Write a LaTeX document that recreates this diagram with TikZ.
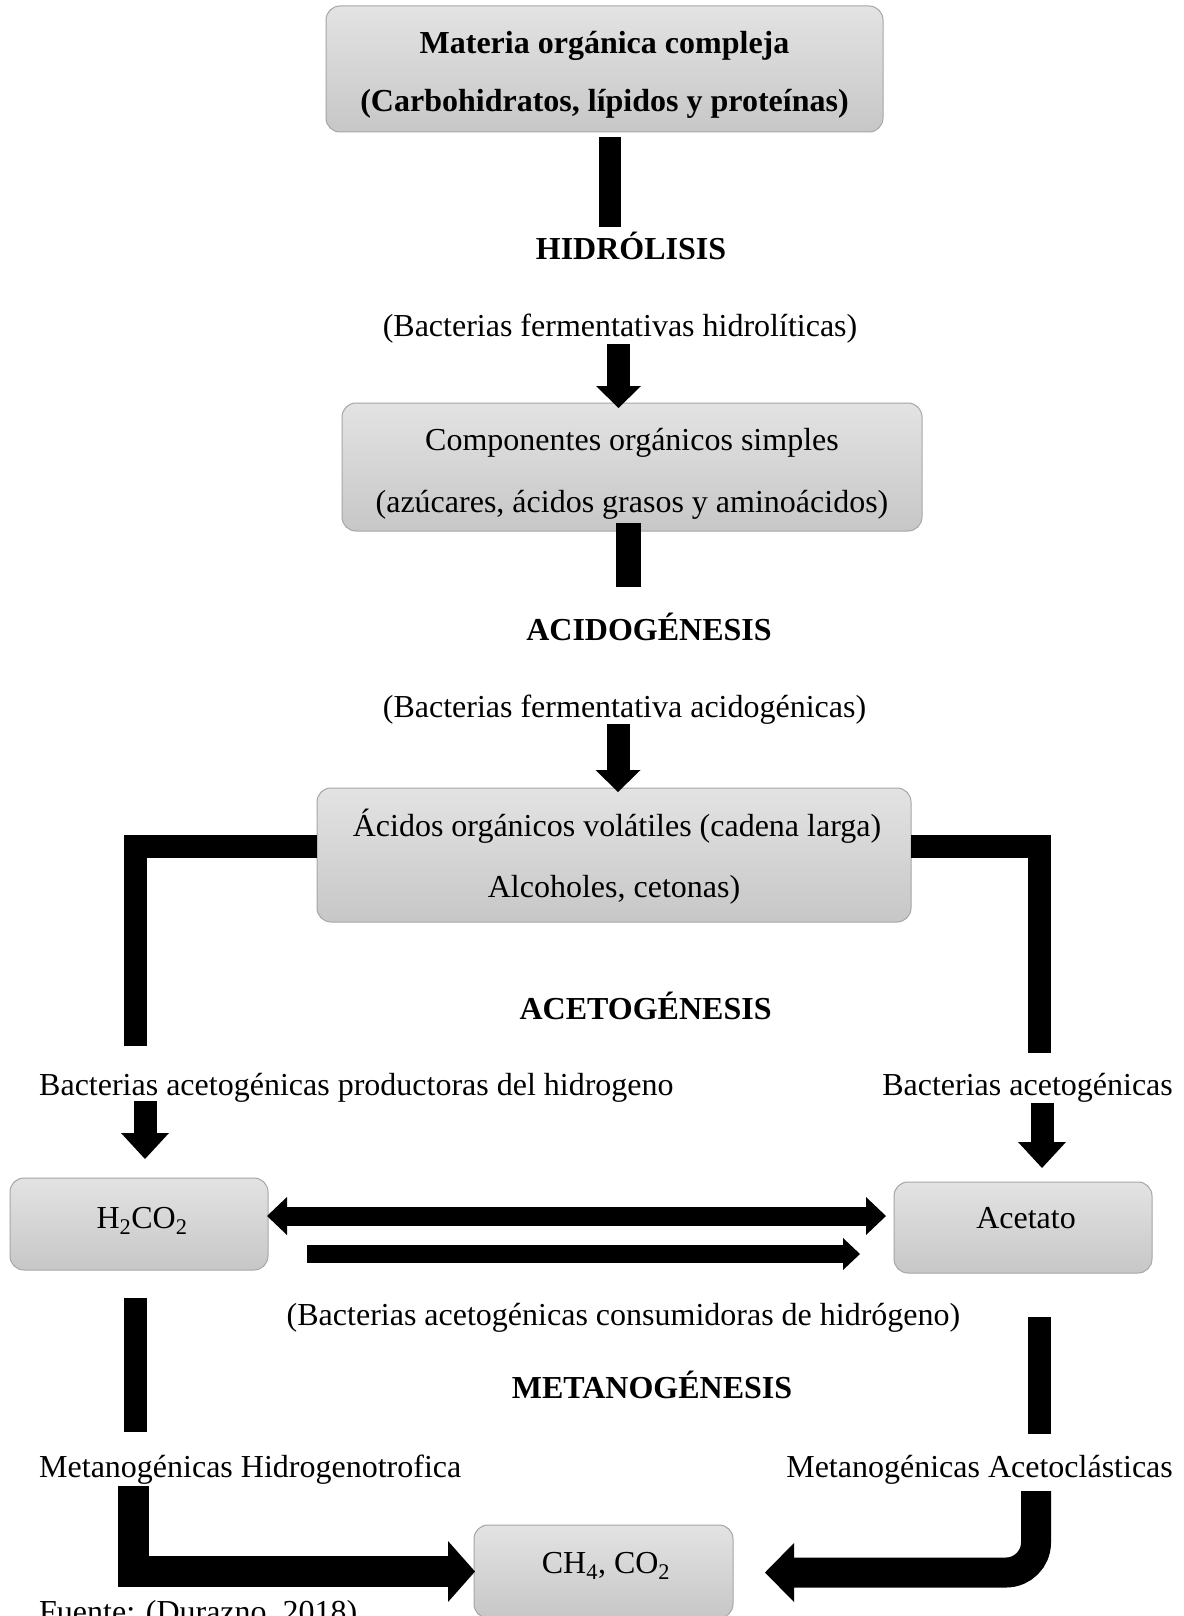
\documentclass[tikz,border=0pt]{standalone}
\usepackage{fontspec}
\setmainfont{Liberation Serif}
\usetikzlibrary{arrows.meta}
\begin{document}
\begin{tikzpicture}[x=1pt,y=-1pt,
  box/.style={draw=black!35, line width=1pt, rounded corners=14pt, top color=black!11, bottom color=black!22, inner sep=0pt},
  txt/.style={font=\fontsize{32pt}{38pt}\selectfont, inner sep=0pt, anchor=base},
  btxt/.style={txt, font=\fontsize{32pt}{38pt}\selectfont\bfseries},
  bar/.style={line width=#1, line cap=butt, line join=miter},
  fat/.style n args={3}{line width=#1, line cap=butt, line join=miter, -{Triangle[width=#2,length=#3,line width=0pt]}},
  dfat/.style n args={3}{line width=#1, line cap=butt, {Triangle[width=#2,length=#3,line width=0pt]}-{Triangle[width=#2,length=#3,line width=0pt]}}
]
\fill[white] (0,0) rectangle (1183,1616);
\useasboundingbox (0,0) rectangle (1183,1616);

% boxes and texts
\node[box, minimum width=557pt, minimum height=126pt] (b1) at (604.5,69) {};
\node[btxt] (b1a) at (604.5,54) {Materia orgánica compleja};
\node[btxt] (b1b) at (604.5,112) {(Carbohidratos, lípidos y proteínas)};

\node[btxt] (hid) at (631,259) {HIDRÓLISIS};
\node[txt] (bfh) at (620,336) {(Bacterias fermentativas hidrolíticas)};

\node[box, minimum width=580pt, minimum height=128pt] (b2) at (632,467) {};
\node[txt] (b2a) at (632,450) {Componentes orgánicos simples};
\node[txt] (b2b) at (632,512) {(azúcares, ácidos grasos y aminoácidos)};

\node[btxt] (acid) at (649,640) {ACIDOGÉNESIS};
\node[txt] (bfa) at (624.5,717) {(Bacterias fermentativa acidogénicas)};

\node[box, minimum width=594pt, minimum height=134pt] (b3) at (614,855) {};
\node[txt] (b3a) at (617,836.5) {Ácidos orgánicos volátiles (cadena larga)};
\node[txt] (b3b) at (614,897) {Alcoholes, cetonas)};

\node[btxt] (acet) at (645.6,1019) {ACETOGÉNESIS};
\node[txt, anchor=base west] (bap) at (39,1095) {Bacterias acetogénicas productoras del hidrogeno};
\node[txt, anchor=base east] (ba) at (1173,1095) {Bacterias acetogénicas};

\node[box, minimum width=258pt, minimum height=92pt] (h2) at (139,1224) {};
\node[txt] (h2t) at (142,1228) {H\textsubscript{2}CO\textsubscript{2}};
\node[box, minimum width=258pt, minimum height=91pt] (ac) at (1023,1227.5) {};
\node[txt] (act) at (1026,1228) {Acetato};

\node[txt] (bac) at (623.5,1325) {(Bacterias acetogénicas consumidoras de hidrógeno)};
\node[btxt] (met) at (652,1398) {METANOGÉNESIS};
\node[txt, anchor=base west] (mh) at (39,1477) {Metanogénicas Hidrogenotrofica};
\node[txt, anchor=base east] (ma) at (1173,1477) {Metanogénicas Acetoclásticas};

\node[box, minimum width=259pt, minimum height=93pt] (ch) at (603.5,1571.5) {};
\node[txt] (cht) at (606,1573) {CH\textsubscript{4}, CO\textsubscript{2}};
\node[txt, anchor=base west] (fu) at (39,1622) {Fuente: (Durazno, 2018)};

% connector end points
\coordinate (c1a) at (610,137);   \coordinate (c1b) at (610,227);
\coordinate (a1a) at (618.5,344); \coordinate (a1b) at (618.5,408);
\coordinate (c2a) at (628,523);   \coordinate (c2b) at (628,587);
\coordinate (a2a) at (618,724);   \coordinate (a2b) at (618,792);
\coordinate (lb0) at (317,846);   \coordinate (lb1) at (135.5,846); \coordinate (lb2) at (135.5,1046);
\coordinate (rb0) at (911,846);   \coordinate (rb1) at (1039,846);  \coordinate (rb2) at (1039,1053);
\coordinate (al0) at (145,1101);  \coordinate (al1) at (145,1159);
\coordinate (ar0) at (1042,1103); \coordinate (ar1) at (1042,1168);
\coordinate (d0) at (267,1216);   \coordinate (d1) at (886,1216);
\coordinate (s0) at (307,1254);   \coordinate (s1) at (860,1254);
\coordinate (lv0) at (135.5,1298); \coordinate (lv1) at (135.5,1432);
\coordinate (rv0) at (1039,1317); \coordinate (rv1) at (1039,1434);
\coordinate (bl0) at (133.5,1486); \coordinate (bl1) at (475,1571.5);
\coordinate (br0) at (1036,1491); \coordinate (br1) at (765,1572.5);

% connectors
\draw[bar=22pt] (c1a) -- (c1b);
\draw[fat={23pt}{45pt}{22pt}] (a1a) -- (a1b);
\draw[bar=25pt] (c2a) -- (c2b);
\draw[fat={23pt}{45pt}{22pt}] (a2a) -- (a2b);
\draw[bar=23pt] (lb0) -- (lb1) -- (lb2);
\draw[bar=23pt] (rb0) -- (rb1) -- (rb2);
\draw[fat={23pt}{48pt}{26pt}] (al0) -- (al1);
\draw[fat={23pt}{48pt}{26pt}] (ar0) -- (ar1);
\draw[dfat={19pt}{38pt}{20pt}] (d0) -- (d1);
\draw[fat={18pt}{32pt}{17pt}] (s0) -- (s1);
\draw[bar=23pt] (lv0) -- (lv1);
\draw[bar=23pt] (rv0) -- (rv1);
\draw[fat={31pt}{61pt}{27pt}] (bl0) |- (bl1);
\draw[fat={30pt}{59pt}{29pt}, rounded corners=30pt] (br0) |- (br1);
\end{tikzpicture}
\end{document}
